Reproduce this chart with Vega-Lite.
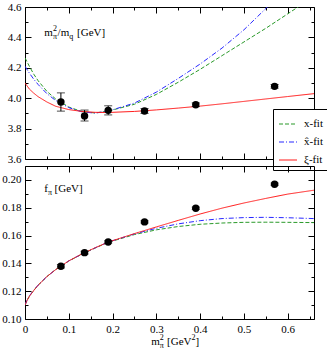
{
  "$schema": "https://vega.github.io/schema/vega-lite/v6.json",
  "background": "white",
  "padding": {"left": 1, "top": 0, "right": 1, "bottom": 1},
  "datasets": {
    "top_curves": [
      {"x": 0, "y": 4.265, "fit": "x-fit"}, {"x": 0.01, "y": 4.21, "fit": "x-fit"}, {"x": 0.02, "y": 4.158, "fit": "x-fit"}, {"x": 0.03, "y": 4.115, "fit": "x-fit"}, {"x": 0.05, "y": 4.045, "fit": "x-fit"}, {"x": 0.07, "y": 3.995, "fit": "x-fit"}, {"x": 0.1, "y": 3.942, "fit": "x-fit"}, {"x": 0.13, "y": 3.912, "fit": "x-fit"}, {"x": 0.16, "y": 3.903, "fit": "x-fit"}, {"x": 0.19, "y": 3.915, "fit": "x-fit"}, {"x": 0.25, "y": 3.96, "fit": "x-fit"}, {"x": 0.3, "y": 4.025, "fit": "x-fit"}, {"x": 0.35, "y": 4.105, "fit": "x-fit"}, {"x": 0.4, "y": 4.19, "fit": "x-fit"}, {"x": 0.45, "y": 4.28, "fit": "x-fit"}, {"x": 0.5, "y": 4.37, "fit": "x-fit"}, {"x": 0.55, "y": 4.46, "fit": "x-fit"}, {"x": 0.6, "y": 4.555, "fit": "x-fit"}, {"x": 0.66, "y": 4.67, "fit": "x-fit"},
      {"x": 0, "y": 4.21, "fit": "x̂-fit"}, {"x": 0.01, "y": 4.165, "fit": "x̂-fit"}, {"x": 0.02, "y": 4.125, "fit": "x̂-fit"}, {"x": 0.03, "y": 4.09, "fit": "x̂-fit"}, {"x": 0.05, "y": 4.03, "fit": "x̂-fit"}, {"x": 0.07, "y": 3.985, "fit": "x̂-fit"}, {"x": 0.1, "y": 3.938, "fit": "x̂-fit"}, {"x": 0.13, "y": 3.91, "fit": "x̂-fit"}, {"x": 0.16, "y": 3.902, "fit": "x̂-fit"}, {"x": 0.19, "y": 3.915, "fit": "x̂-fit"}, {"x": 0.25, "y": 3.968, "fit": "x̂-fit"}, {"x": 0.3, "y": 4.04, "fit": "x̂-fit"}, {"x": 0.35, "y": 4.13, "fit": "x̂-fit"}, {"x": 0.4, "y": 4.225, "fit": "x̂-fit"}, {"x": 0.45, "y": 4.33, "fit": "x̂-fit"}, {"x": 0.5, "y": 4.45, "fit": "x̂-fit"}, {"x": 0.55, "y": 4.59, "fit": "x̂-fit"}, {"x": 0.6, "y": 4.74, "fit": "x̂-fit"}, {"x": 0.66, "y": 4.93, "fit": "x̂-fit"},
      {"x": 0, "y": 4.1, "fit": "ξ-fit"}, {"x": 0.01, "y": 4.06, "fit": "ξ-fit"}, {"x": 0.02, "y": 4.033, "fit": "ξ-fit"}, {"x": 0.03, "y": 4.01, "fit": "ξ-fit"}, {"x": 0.05, "y": 3.975, "fit": "ξ-fit"}, {"x": 0.07, "y": 3.947, "fit": "ξ-fit"}, {"x": 0.1, "y": 3.925, "fit": "ξ-fit"}, {"x": 0.13, "y": 3.913, "fit": "ξ-fit"}, {"x": 0.16, "y": 3.907, "fit": "ξ-fit"}, {"x": 0.19, "y": 3.906, "fit": "ξ-fit"}, {"x": 0.25, "y": 3.913, "fit": "ξ-fit"}, {"x": 0.3, "y": 3.923, "fit": "ξ-fit"}, {"x": 0.35, "y": 3.935, "fit": "ξ-fit"}, {"x": 0.4, "y": 3.948, "fit": "ξ-fit"}, {"x": 0.45, "y": 3.963, "fit": "ξ-fit"}, {"x": 0.5, "y": 3.979, "fit": "ξ-fit"}, {"x": 0.55, "y": 3.995, "fit": "ξ-fit"}, {"x": 0.6, "y": 4.011, "fit": "ξ-fit"}, {"x": 0.66, "y": 4.03, "fit": "ξ-fit"}
    ],
    "bot_curves": [
      {"x": 0, "y": 0.11, "fit": "x-fit"}, {"x": 0.005, "y": 0.1135, "fit": "x-fit"}, {"x": 0.01, "y": 0.1163, "fit": "x-fit"}, {"x": 0.02, "y": 0.1205, "fit": "x-fit"}, {"x": 0.03, "y": 0.1243, "fit": "x-fit"}, {"x": 0.05, "y": 0.1305, "fit": "x-fit"}, {"x": 0.07, "y": 0.1355, "fit": "x-fit"}, {"x": 0.1, "y": 0.1417, "fit": "x-fit"}, {"x": 0.13, "y": 0.1466, "fit": "x-fit"}, {"x": 0.16, "y": 0.151, "fit": "x-fit"}, {"x": 0.19, "y": 0.1551, "fit": "x-fit"}, {"x": 0.25, "y": 0.1607, "fit": "x-fit"}, {"x": 0.3, "y": 0.1641, "fit": "x-fit"}, {"x": 0.35, "y": 0.1665, "fit": "x-fit"}, {"x": 0.4, "y": 0.1681, "fit": "x-fit"}, {"x": 0.45, "y": 0.169, "fit": "x-fit"}, {"x": 0.5, "y": 0.1695, "fit": "x-fit"}, {"x": 0.55, "y": 0.1696, "fit": "x-fit"}, {"x": 0.6, "y": 0.1695, "fit": "x-fit"}, {"x": 0.66, "y": 0.1693, "fit": "x-fit"},
      {"x": 0, "y": 0.1102, "fit": "x̂-fit"}, {"x": 0.005, "y": 0.1138, "fit": "x̂-fit"}, {"x": 0.01, "y": 0.1166, "fit": "x̂-fit"}, {"x": 0.02, "y": 0.1207, "fit": "x̂-fit"}, {"x": 0.03, "y": 0.1244, "fit": "x̂-fit"}, {"x": 0.05, "y": 0.1305, "fit": "x̂-fit"}, {"x": 0.07, "y": 0.1355, "fit": "x̂-fit"}, {"x": 0.1, "y": 0.1418, "fit": "x̂-fit"}, {"x": 0.13, "y": 0.1467, "fit": "x̂-fit"}, {"x": 0.16, "y": 0.1511, "fit": "x̂-fit"}, {"x": 0.19, "y": 0.1553, "fit": "x̂-fit"}, {"x": 0.25, "y": 0.1612, "fit": "x̂-fit"}, {"x": 0.3, "y": 0.1652, "fit": "x̂-fit"}, {"x": 0.35, "y": 0.1684, "fit": "x̂-fit"}, {"x": 0.4, "y": 0.1707, "fit": "x̂-fit"}, {"x": 0.45, "y": 0.1722, "fit": "x̂-fit"}, {"x": 0.5, "y": 0.1729, "fit": "x̂-fit"}, {"x": 0.55, "y": 0.1731, "fit": "x̂-fit"}, {"x": 0.6, "y": 0.1728, "fit": "x̂-fit"}, {"x": 0.66, "y": 0.1722, "fit": "x̂-fit"},
      {"x": 0, "y": 0.11, "fit": "ξ-fit"}, {"x": 0.005, "y": 0.1135, "fit": "ξ-fit"}, {"x": 0.01, "y": 0.1163, "fit": "ξ-fit"}, {"x": 0.02, "y": 0.1205, "fit": "ξ-fit"}, {"x": 0.03, "y": 0.1243, "fit": "ξ-fit"}, {"x": 0.05, "y": 0.1305, "fit": "ξ-fit"}, {"x": 0.07, "y": 0.1355, "fit": "ξ-fit"}, {"x": 0.1, "y": 0.1418, "fit": "ξ-fit"}, {"x": 0.13, "y": 0.1468, "fit": "ξ-fit"}, {"x": 0.16, "y": 0.1512, "fit": "ξ-fit"}, {"x": 0.19, "y": 0.1553, "fit": "ξ-fit"}, {"x": 0.25, "y": 0.1614, "fit": "ξ-fit"}, {"x": 0.3, "y": 0.1662, "fit": "ξ-fit"}, {"x": 0.35, "y": 0.1709, "fit": "ξ-fit"}, {"x": 0.4, "y": 0.1755, "fit": "ξ-fit"}, {"x": 0.45, "y": 0.1797, "fit": "ξ-fit"}, {"x": 0.5, "y": 0.1834, "fit": "ξ-fit"}, {"x": 0.55, "y": 0.1867, "fit": "ξ-fit"}, {"x": 0.6, "y": 0.1898, "fit": "ξ-fit"}, {"x": 0.66, "y": 0.1926, "fit": "ξ-fit"}
    ],
    "top_pts": [
      {"x": 0.082, "y": 3.975, "lo": 3.915, "hi": 4.035},
      {"x": 0.136, "y": 3.883, "lo": 3.85, "hi": 3.922},
      {"x": 0.19, "y": 3.92, "lo": 3.89, "hi": 3.95},
      {"x": 0.273, "y": 3.916, "lo": 3.9, "hi": 3.932},
      {"x": 0.39, "y": 3.957, "lo": 3.945, "hi": 3.969},
      {"x": 0.57, "y": 4.078, "lo": 4.066, "hi": 4.09}
    ],
    "bot_pts": [
      {"x": 0.082, "y": 0.1379, "lo": 0.1367, "hi": 0.1391},
      {"x": 0.136, "y": 0.1477, "lo": 0.1467, "hi": 0.1487},
      {"x": 0.19, "y": 0.1554, "lo": 0.1546, "hi": 0.1562},
      {"x": 0.273, "y": 0.1698, "lo": 0.169, "hi": 0.1706},
      {"x": 0.39, "y": 0.1796, "lo": 0.1788, "hi": 0.1804},
      {"x": 0.57, "y": 0.1969, "lo": 0.1961, "hi": 0.1977}
    ]
  },
  "vconcat": [
    {
      "width": 289,
      "height": 152,
      "layer": [
        {
          "data": {"name": "top_curves"},
          "mark": {"type": "line", "strokeWidth": 1, "clip": true},
          "encoding": {
            "x": {"field": "x", "type": "quantitative", "scale": {"domain": [0, 0.66], "nice": false, "zero": false},
              "axis": {"orient": "bottom", "title": null, "labels": false, "values": [0, 0.05, 0.1, 0.15, 0.2, 0.25, 0.3, 0.35, 0.4, 0.45, 0.5, 0.55, 0.6, 0.65],
                "tickSize": {"condition": {"test": "abs(datum.value*10 - round(datum.value*10)) < 0.001", "value": -6}, "value": -3}}},
            "y": {"field": "y", "type": "quantitative", "scale": {"domain": [3.6, 4.6], "nice": false, "zero": false},
              "axis": {"orient": "left", "title": null, "values": [3.6, 3.7, 3.8, 3.9, 4.0, 4.1, 4.2, 4.3, 4.4, 4.5, 4.6],
                "tickSize": {"condition": {"test": "abs(datum.value*5 - round(datum.value*5)) < 0.001", "value": -6}, "value": -3},
                "labelExpr": "abs(datum.value*5 - round(datum.value*5)) < 0.001 ? format(datum.value, '.1f') : ''"}},
            "color": {"field": "fit", "type": "nominal",
              "scale": {"domain": ["x-fit", "x̂-fit", "ξ-fit"], "range": ["#2a9a2a", "#2828ff", "#ff1a1a"]},
              "legend": {"orient": "none", "legendX": 248, "legendY": 102, "title": null, "fillColor": "white", "strokeColor": "black", "padding": 5, "symbolType": "stroke", "symbolSize": 324, "symbolStrokeWidth": 1.2, "labelFont": "Liberation Serif", "labelFontSize": 11, "labelColor": "black", "rowPadding": 3, "labelOffset": 6}},
            "strokeDash": {"field": "fit", "type": "nominal",
              "scale": {"domain": ["x-fit", "x̂-fit", "ξ-fit"], "range": [[4, 2], [5, 2, 1, 2], [1, 0]]},
              "legend": {"orient": "none", "legendX": 248, "legendY": 102, "title": null, "fillColor": "white", "strokeColor": "black", "padding": 5, "symbolType": "stroke", "symbolSize": 324, "symbolStrokeWidth": 1.2, "labelFont": "Liberation Serif", "labelFontSize": 11, "labelColor": "black", "rowPadding": 3, "labelOffset": 6}}
          }
        },
        {
          "data": {"name": "top_pts"},
          "mark": {"type": "errorbar", "ticks": {"size": 8, "thickness": 1, "color": "black"}, "rule": {"color": "black", "strokeWidth": 1}},
          "encoding": {
            "x": {"field": "x", "type": "quantitative", "axis": null},
            "y": {"field": "lo", "type": "quantitative", "axis": null},
            "y2": {"field": "hi"}
          }
        },
        {
          "data": {"name": "top_pts"},
          "mark": {"type": "point", "filled": true, "color": "black", "size": 55, "opacity": 1},
          "encoding": {
            "x": {"field": "x", "type": "quantitative", "axis": null},
            "y": {"field": "y", "type": "quantitative", "axis": null}
          }
        },
        {
          "data": {"name": "top_pts"},
          "mark": {"type": "point", "opacity": 0},
          "encoding": {
            "x": {"field": "x", "type": "quantitative",
              "axis": {"orient": "top", "title": null, "labels": false, "values": [0, 0.05, 0.1, 0.15, 0.2, 0.25, 0.3, 0.35, 0.4, 0.45, 0.5, 0.55, 0.6, 0.65],
                "tickSize": {"condition": {"test": "abs(datum.value*10 - round(datum.value*10)) < 0.001", "value": -6}, "value": -3}}},
            "y": {"field": "y", "type": "quantitative",
              "axis": {"orient": "right", "title": null, "labels": false, "values": [3.6, 3.7, 3.8, 3.9, 4.0, 4.1, 4.2, 4.3, 4.4, 4.5, 4.6],
                "tickSize": {"condition": {"test": "abs(datum.value*5 - round(datum.value*5)) < 0.001", "value": -6}, "value": -3}}}
          }
        },
        {
          "data": {"values": [{}]},
          "mark": {"type": "text", "font": "Liberation Serif", "fontSize": 11, "align": "left", "baseline": "alphabetic", "color": "black"},
          "encoding": {"x": {"datum": 0.0442, "type": "quantitative", "axis": null}, "y": {"datum": 4.411, "type": "quantitative", "axis": null}, "text": {"value": "m"}}
        },
        {
          "data": {"values": [{}]},
          "mark": {"type": "text", "font": "Liberation Serif", "fontSize": 8, "align": "left", "baseline": "alphabetic", "color": "black"},
          "encoding": {"x": {"datum": 0.0638, "type": "quantitative", "axis": null}, "y": {"datum": 4.391, "type": "quantitative", "axis": null}, "text": {"value": "π"}}
        },
        {
          "data": {"values": [{}]},
          "mark": {"type": "text", "font": "Liberation Serif", "fontSize": 8, "align": "left", "baseline": "alphabetic", "color": "black"},
          "encoding": {"x": {"datum": 0.0638, "type": "quantitative", "axis": null}, "y": {"datum": 4.444, "type": "quantitative", "axis": null}, "text": {"value": "2"}}
        },
        {
          "data": {"values": [{}]},
          "mark": {"type": "text", "font": "Liberation Serif", "fontSize": 11, "align": "left", "baseline": "alphabetic", "color": "black"},
          "encoding": {"x": {"datum": 0.0744, "type": "quantitative", "axis": null}, "y": {"datum": 4.411, "type": "quantitative", "axis": null}, "text": {"value": "/m"}}
        },
        {
          "data": {"values": [{}]},
          "mark": {"type": "text", "font": "Liberation Serif", "fontSize": 8, "align": "left", "baseline": "alphabetic", "color": "black"},
          "encoding": {"x": {"datum": 0.1009, "type": "quantitative", "axis": null}, "y": {"datum": 4.391, "type": "quantitative", "axis": null}, "text": {"value": "q"}}
        },
        {
          "data": {"values": [{}]},
          "mark": {"type": "text", "font": "Liberation Serif", "fontSize": 11, "align": "left", "baseline": "alphabetic", "color": "black"},
          "encoding": {"x": {"datum": 0.119, "type": "quantitative", "axis": null}, "y": {"datum": 4.411, "type": "quantitative", "axis": null}, "text": {"value": "[GeV]"}}
        }
      ],
      "resolve": {"axis": {"x": "independent", "y": "independent"}}
    },
    {
      "width": 289,
      "height": 153,
      "layer": [
        {
          "data": {"name": "bot_curves"},
          "mark": {"type": "line", "strokeWidth": 1, "clip": true},
          "encoding": {
            "x": {"field": "x", "type": "quantitative", "scale": {"domain": [0, 0.66], "nice": false, "zero": false},
              "axis": {"orient": "bottom", "title": null, "labelFlush": false, "values": [0, 0.05, 0.1, 0.15, 0.2, 0.25, 0.3, 0.35, 0.4, 0.45, 0.5, 0.55, 0.6, 0.65],
                "tickSize": {"condition": {"test": "abs(datum.value*10 - round(datum.value*10)) < 0.001", "value": -6}, "value": -3},
                "labelExpr": "abs(datum.value*10 - round(datum.value*10)) < 0.001 ? (datum.value == 0 ? '0' : format(datum.value, '.1f')) : ''"}},
            "y": {"field": "y", "type": "quantitative", "scale": {"domain": [0.1, 0.21], "nice": false, "zero": false},
              "axis": {"orient": "left", "title": null, "values": [0.1, 0.11, 0.12, 0.13, 0.14, 0.15, 0.16, 0.17, 0.18, 0.19, 0.2],
                "tickSize": {"condition": {"test": "abs(datum.value*50 - round(datum.value*50)) < 0.001", "value": -6}, "value": -3},
                "labelExpr": "abs(datum.value*50 - round(datum.value*50)) < 0.001 ? format(datum.value, '.2f') : ''"}},
            "color": {"field": "fit", "type": "nominal",
              "scale": {"domain": ["x-fit", "x̂-fit", "ξ-fit"], "range": ["#2a9a2a", "#2828ff", "#ff1a1a"]}, "legend": null},
            "strokeDash": {"field": "fit", "type": "nominal",
              "scale": {"domain": ["x-fit", "x̂-fit", "ξ-fit"], "range": [[4, 2], [5, 2, 1, 2], [1, 0]]}, "legend": null}
          }
        },
        {
          "data": {"name": "bot_pts"},
          "mark": {"type": "errorbar", "ticks": {"size": 8, "thickness": 1, "color": "black"}, "rule": {"color": "black", "strokeWidth": 1}},
          "encoding": {
            "x": {"field": "x", "type": "quantitative", "axis": null},
            "y": {"field": "lo", "type": "quantitative", "axis": null},
            "y2": {"field": "hi"}
          }
        },
        {
          "data": {"name": "bot_pts"},
          "mark": {"type": "point", "filled": true, "color": "black", "size": 55, "opacity": 1},
          "encoding": {
            "x": {"field": "x", "type": "quantitative", "axis": null},
            "y": {"field": "y", "type": "quantitative", "axis": null}
          }
        },
        {
          "data": {"name": "bot_pts"},
          "mark": {"type": "point", "opacity": 0},
          "encoding": {
            "x": {"field": "x", "type": "quantitative",
              "axis": {"orient": "top", "title": null, "labels": false, "values": [0, 0.05, 0.1, 0.15, 0.2, 0.25, 0.3, 0.35, 0.4, 0.45, 0.5, 0.55, 0.6, 0.65],
                "tickSize": {"condition": {"test": "abs(datum.value*10 - round(datum.value*10)) < 0.001", "value": -6}, "value": -3}}},
            "y": {"field": "y", "type": "quantitative",
              "axis": {"orient": "right", "title": null, "labels": false, "values": [0.1, 0.11, 0.12, 0.13, 0.14, 0.15, 0.16, 0.17, 0.18, 0.19, 0.2],
                "tickSize": {"condition": {"test": "abs(datum.value*50 - round(datum.value*50)) < 0.001", "value": -6}, "value": -3}}}
          }
        },
        {
          "data": {"values": [{}]},
          "mark": {"type": "text", "font": "Liberation Serif", "fontSize": 11, "align": "left", "baseline": "alphabetic", "color": "black"},
          "encoding": {"x": {"datum": 0.0442, "type": "quantitative", "axis": null}, "y": {"datum": 0.1914, "type": "quantitative", "axis": null}, "text": {"value": "f"}}
        },
        {
          "data": {"values": [{}]},
          "mark": {"type": "text", "font": "Liberation Serif", "fontSize": 8, "align": "left", "baseline": "alphabetic", "color": "black"},
          "encoding": {"x": {"datum": 0.0527, "type": "quantitative", "axis": null}, "y": {"datum": 0.1892, "type": "quantitative", "axis": null}, "text": {"value": "π"}}
        },
        {
          "data": {"values": [{}]},
          "mark": {"type": "text", "font": "Liberation Serif", "fontSize": 11, "align": "left", "baseline": "alphabetic", "color": "black"},
          "encoding": {"x": {"datum": 0.0675, "type": "quantitative", "axis": null}, "y": {"datum": 0.1914, "type": "quantitative", "axis": null}, "text": {"value": "[GeV]"}}
        },
        {
          "data": {"values": [{}]},
          "mark": {"type": "text", "font": "Liberation Serif", "fontSize": 11, "align": "left", "baseline": "alphabetic", "color": "black"},
          "encoding": {"x": {"datum": 0.2883, "type": "quantitative", "axis": null}, "y": {"datum": 0.0813, "type": "quantitative", "axis": null}, "text": {"value": "m"}}
        },
        {
          "data": {"values": [{}]},
          "mark": {"type": "text", "font": "Liberation Serif", "fontSize": 8, "align": "left", "baseline": "alphabetic", "color": "black"},
          "encoding": {"x": {"datum": 0.308, "type": "quantitative", "axis": null}, "y": {"datum": 0.0791, "type": "quantitative", "axis": null}, "text": {"value": "π"}}
        },
        {
          "data": {"values": [{}]},
          "mark": {"type": "text", "font": "Liberation Serif", "fontSize": 8, "align": "left", "baseline": "alphabetic", "color": "black"},
          "encoding": {"x": {"datum": 0.308, "type": "quantitative", "axis": null}, "y": {"datum": 0.0849, "type": "quantitative", "axis": null}, "text": {"value": "2"}}
        },
        {
          "data": {"values": [{}]},
          "mark": {"type": "text", "font": "Liberation Serif", "fontSize": 11, "align": "left", "baseline": "alphabetic", "color": "black"},
          "encoding": {"x": {"datum": 0.3244, "type": "quantitative", "axis": null}, "y": {"datum": 0.0813, "type": "quantitative", "axis": null}, "text": {"value": "[GeV"}}
        },
        {
          "data": {"values": [{}]},
          "mark": {"type": "text", "font": "Liberation Serif", "fontSize": 8, "align": "left", "baseline": "alphabetic", "color": "black"},
          "encoding": {"x": {"datum": 0.3803, "type": "quantitative", "axis": null}, "y": {"datum": 0.0849, "type": "quantitative", "axis": null}, "text": {"value": "2"}}
        },
        {
          "data": {"values": [{}]},
          "mark": {"type": "text", "font": "Liberation Serif", "fontSize": 11, "align": "left", "baseline": "alphabetic", "color": "black"},
          "encoding": {"x": {"datum": 0.3895, "type": "quantitative", "axis": null}, "y": {"datum": 0.0813, "type": "quantitative", "axis": null}, "text": {"value": "]"}}
        }
      ],
      "resolve": {"axis": {"x": "independent", "y": "independent"}}
    }
  ],
  "spacing": 7,
  "bounds": "flush",
  "resolve": {"scale": {"color": "independent", "strokeDash": "independent"}},
  "config": {
    "view": {"stroke": "black", "strokeWidth": 1},
    "axis": {"domain": false, "grid": false, "ticks": true, "tickColor": "black", "tickWidth": 1, "labelFont": "Liberation Serif", "labelFontSize": 11, "labelColor": "black", "labelPadding": 10}
  }
}
